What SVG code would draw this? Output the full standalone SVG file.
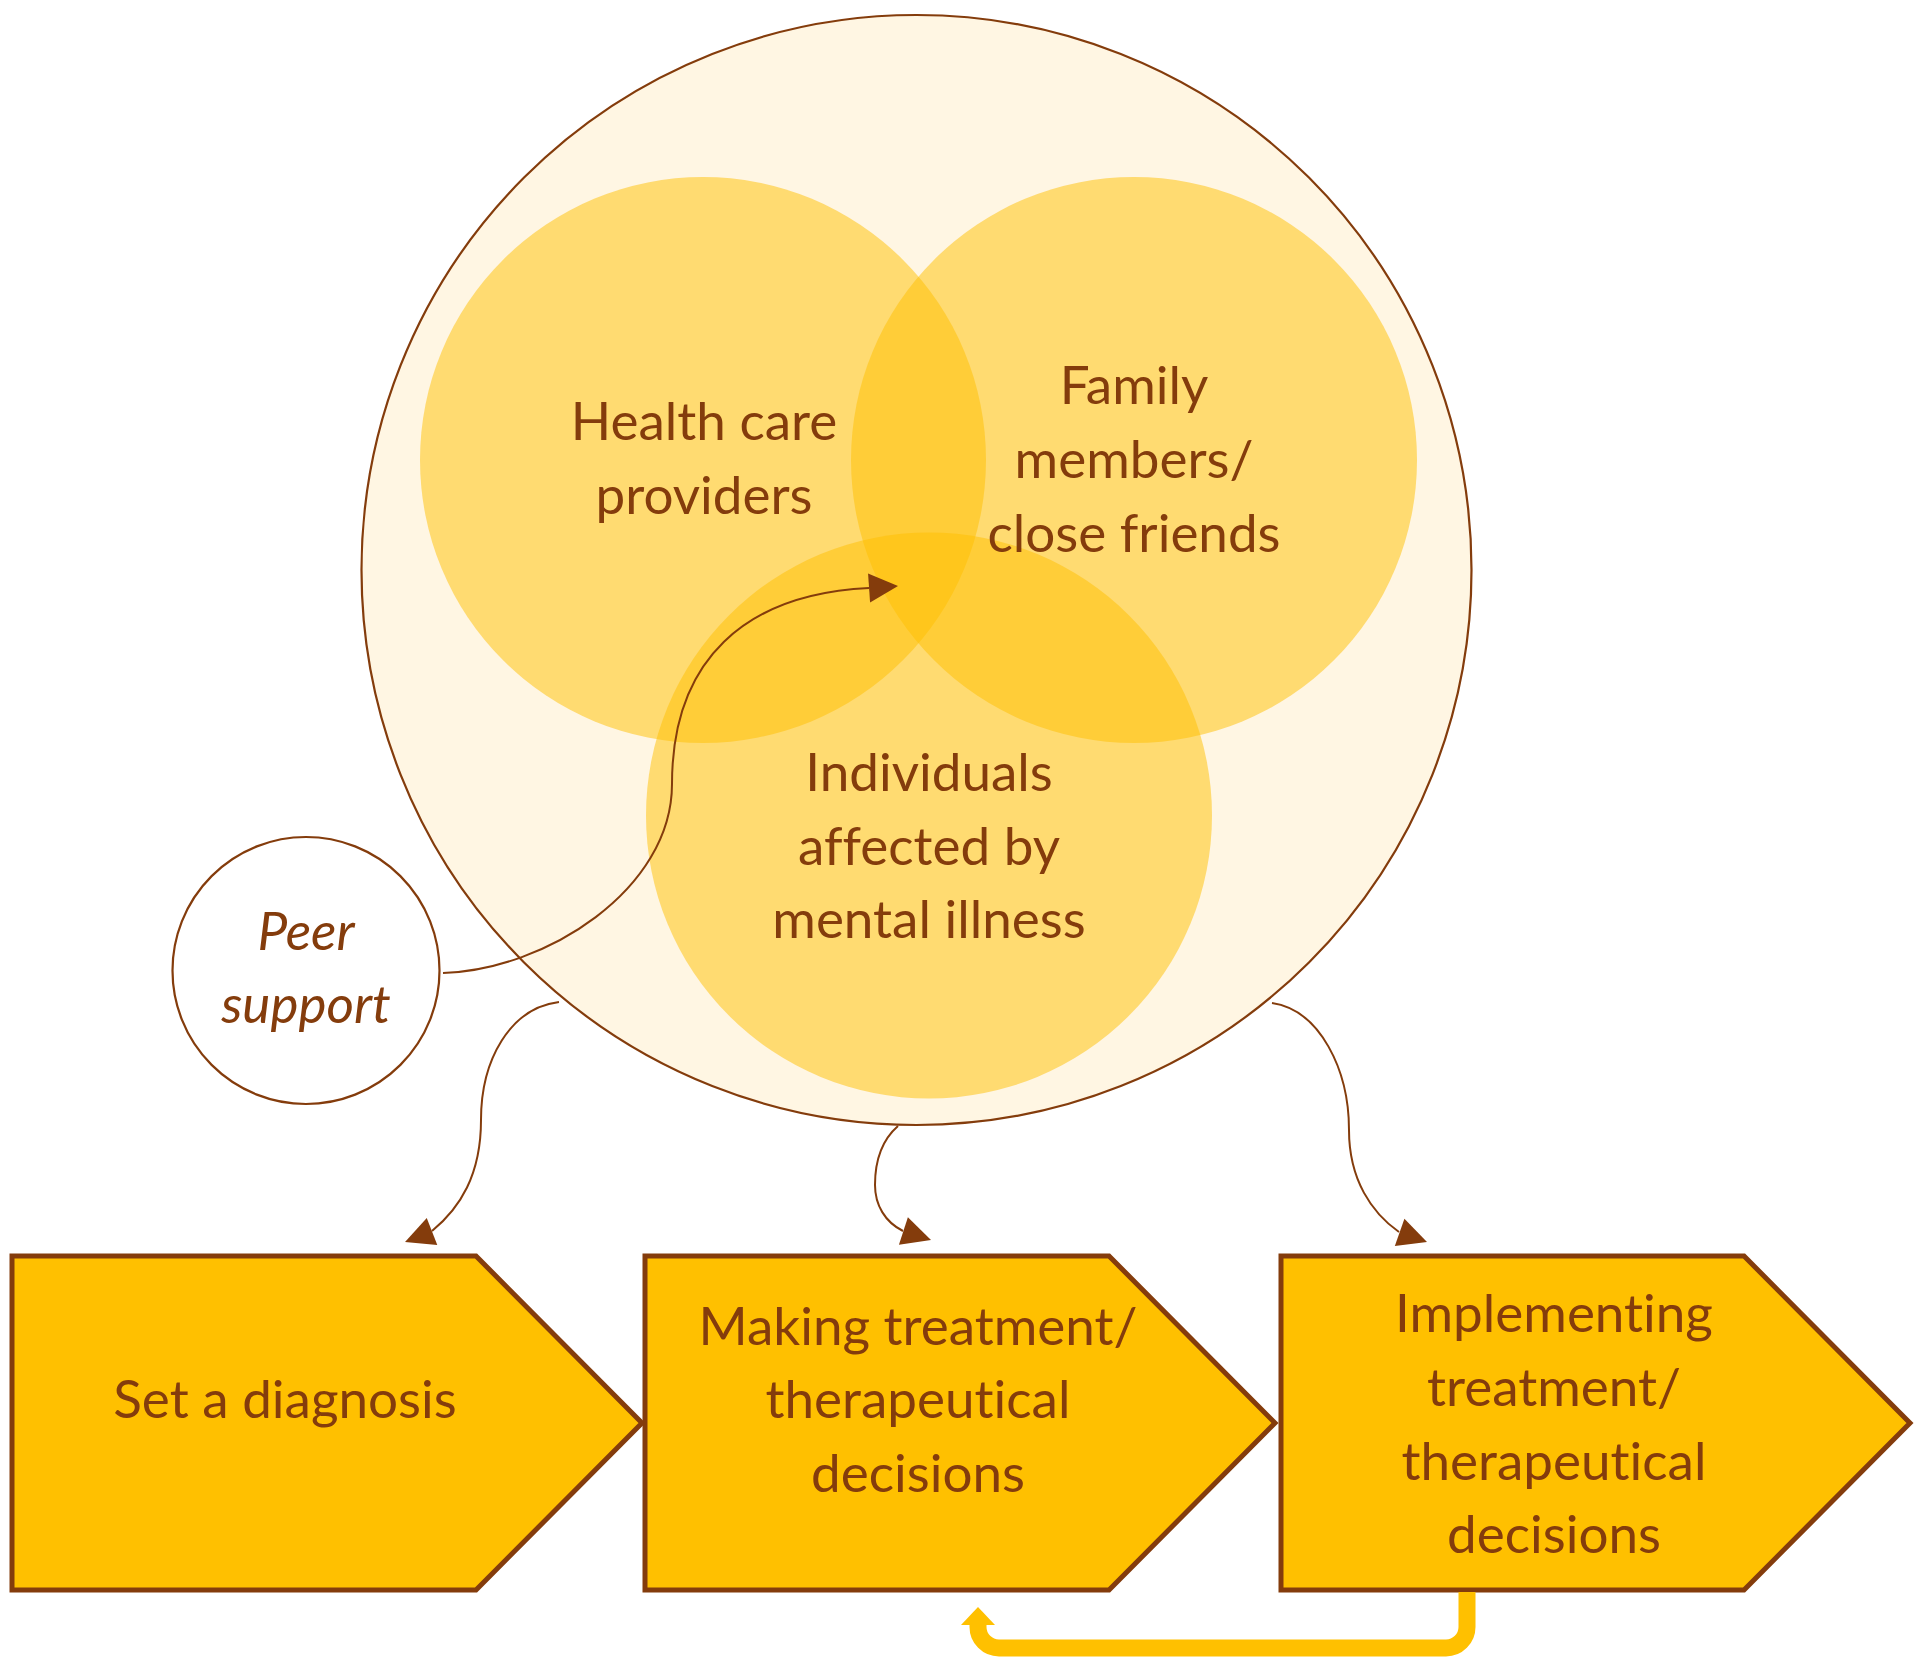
<svg xmlns="http://www.w3.org/2000/svg" xmlns:xlink="http://www.w3.org/1999/xlink" width="1920" height="1676" viewBox="0 0 1920 1676">
  <defs>
    <style>
      .lbl { font-family: Lato, "Open Sans", "Liberation Sans", sans-serif; font-size: 53px; fill: #843C0C; text-anchor: middle; font-variant-ligatures: none; font-feature-settings: "liga" 0, "clig" 0; }
      .ital { font-style: italic; }
      .venn { fill: #FFC000; fill-opacity: 0.5; }
      .box { fill: #FFC000; stroke: #843C0C; stroke-width: 5; stroke-linejoin: miter; }
      .conn { fill: none; stroke: #843C0C; stroke-width: 2; }
      .head { fill: #843C0C; }
    </style>
    <path id="ah" d="M0,0 L-29,-14.5 L-29,14.5 Z"/>
  </defs>
  <rect width="1920" height="1676" fill="#FFFFFF"/>

  <g id="outer-circle">
    <circle cx="916.5" cy="570" r="555" fill="#FFF6E3" stroke="#843C0C" stroke-width="2.2"/>
  </g>

  <g id="health-care-providers">
    <circle class="venn" cx="703" cy="460" r="283"/>
  </g>
  <g id="family-members">
    <circle class="venn" cx="1134" cy="460" r="283"/>
  </g>
  <g id="individuals">
    <circle class="venn" cx="929" cy="815.5" r="283"/>
  </g>

  <g id="health-care-providers-label">
    <text class="lbl" x="704" y="440">Health care</text>
    <text class="lbl" x="704" y="514">providers</text>
  </g>
  <g id="family-members-label">
    <text class="lbl" x="1134" y="404">Family</text>
    <text class="lbl" x="1134" y="478">members/</text>
    <text class="lbl" x="1134" y="552">close friends</text>
  </g>
  <g id="individuals-label">
    <text class="lbl" x="929" y="791">Individuals</text>
    <text class="lbl" x="929" y="865">affected by</text>
    <text class="lbl" x="929" y="938">mental illness</text>
  </g>

  <g id="peer-support">
    <circle cx="306" cy="970.5" r="133.5" fill="#FFFFFF" stroke="#843C0C" stroke-width="2.2"/>
    <text class="lbl ital" x="306" y="950">Peer</text>
    <text class="lbl ital" x="306" y="1023">support</text>
  </g>

  <g id="set-diagnosis">
    <path class="box" d="M12,1256 L476,1256 L642,1423 L476,1590 L12,1590 Z"/>
    <text class="lbl" x="285" y="1418">Set a diagnosis</text>
  </g>
  <g id="making-decisions">
    <path class="box" d="M645,1256 L1109,1256 L1275,1423 L1109,1590 L645,1590 Z"/>
    <text class="lbl" x="918" y="1345">Making treatment/</text>
    <text class="lbl" x="918" y="1418">therapeutical</text>
    <text class="lbl" x="918" y="1492">decisions</text>
  </g>
  <g id="implementing-decisions">
    <path class="box" d="M1281,1256 L1744,1256 L1910,1423 L1744,1590 L1281,1590 Z"/>
    <text class="lbl" x="1554" y="1332">Implementing</text>
    <text class="lbl" x="1554" y="1406">treatment/</text>
    <text class="lbl" x="1554" y="1480">therapeutical</text>
    <text class="lbl" x="1554" y="1553">decisions</text>
  </g>

  <g id="connectors">
    <path class="conn" d="M443,973 C545,970 672,890 672,784 C672,660 745,594 869,588"/>
    <use xlink:href="#ah" class="head" transform="translate(898,586) rotate(-4)"/>

    <path class="conn" d="M559,1002 C510,1008 481,1060 481,1120 C481,1175 460,1208 432,1231"/>
    <use xlink:href="#ah" class="head" transform="translate(405,1242) rotate(158.7)"/>

    <path class="conn" d="M898,1126 C882,1140 875,1160 875,1185 C875,1205 885,1222 903,1231"/>
    <use xlink:href="#ah" class="head" transform="translate(931,1240) rotate(18)"/>

    <path class="conn" d="M1272,1003 C1320,1010 1349,1070 1349,1130 C1349,1180 1372,1213 1399,1232"/>
    <use xlink:href="#ah" class="head" transform="translate(1427,1242) rotate(19.3)"/>

    <path d="M1467,1592 L1467,1627 A21,21 0 0 1 1446,1648 L999,1648 A21,21 0 0 1 978,1627 L978,1620" fill="none" stroke="#FFC000" stroke-width="17"/>
    <path d="M978,1607 L961,1625 L995,1625 Z" fill="#FFC000"/>
  </g>
</svg>
